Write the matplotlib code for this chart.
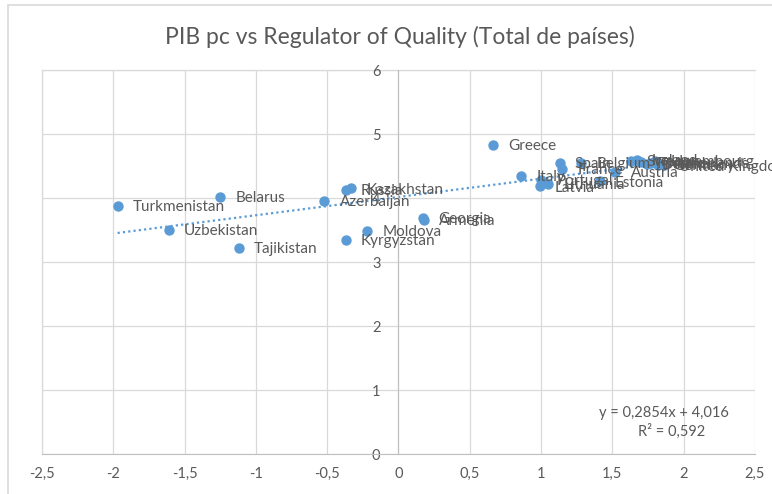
import matplotlib.pyplot as plt
from matplotlib.patches import Rectangle

# datos: Regulatory Quality (x) vs PIB pc en log (y)
paises = ['Turkmenistan', 'Uzbekistan', 'Belarus', 'Tajikistan', 'Azerbaijan',
          'Russia', 'Kazakhstan', 'Kyrgyzstan', 'Moldova', 'Georgia', 'Armenia',
          'Greece', 'Italy', 'Portugal', 'Latvia', 'Lithuania', 'Spain', 'France',
          'Belgium', 'Estonia', 'Austria', 'Sweden', 'Ireland', 'Finland',
          'Denmark', 'Netherlands', 'Luxembourg', 'Germany', 'United Kingdom']
reg_quality = [-1.97, -1.61, -1.25, -1.12, -0.52,
               -0.37, -0.33, -0.37, -0.22, 0.17, 0.18,
               0.66, 0.86, 1.00, 0.99, 1.05, 1.13, 1.15,
               1.28, 1.41, 1.52, 1.63, 1.67, 1.70,
               1.74, 1.77, 1.80, 1.82, 1.86]
pib_pc = [3.88, 3.50, 4.02, 3.22, 3.96,
          4.13, 4.15, 3.35, 3.49, 3.69, 3.66,
          4.83, 4.35, 4.28, 4.18, 4.22, 4.55, 4.46,
          4.55, 4.26, 4.41, 4.58, 4.60, 4.56,
          4.53, 4.55, 4.58, 4.52, 4.51]

# linea de tendencia (la ecuacion que sale en el grafico)
pendiente = 0.2854
intercepto = 4.016
r2 = 0.592

azul = '#5B9BD5'
gris = '#595959'
rejilla = '#d9d9d9'
plt.rcParams['font.family'] = ['Lato', 'DejaVu Sans']

fig = plt.figure(figsize=(7.72, 4.94), dpi=100)
ax = fig.add_axes([42 / 772, 1 - 454 / 494, 713 / 772, 384 / 494])

# borde del area del grafico (cortado a la derecha y abajo)
fig.patches.append(Rectangle((8 / 772, -0.1), 1.2, 1.1 - 5 / 494, transform=fig.transFigure,
                             fill=False, edgecolor=rejilla, lw=1.2))

ax.set_xlim(-2.5, 2.5)
ax.set_ylim(0, 6)
ax.set_xticks([-2.5, -2, -1.5, -1, -0.5, 0, 0.5, 1, 1.5, 2, 2.5])
ax.set_xticklabels(['-2,5', '-2', '-1,5', '-1', '-0,5', '0', '0,5', '1', '1,5', '2', '2,5'])
ax.set_yticks(range(7))
ax.grid(True, color=rejilla, lw=0.9, zorder=0)
ax.axvline(-2.5, color=rejilla, lw=0.9, clip_on=False, zorder=0)
ax.axhline(6, color=rejilla, lw=0.9, clip_on=False, zorder=0)

for lado in ['top', 'right']:
    ax.spines[lado].set_visible(False)
ax.spines['left'].set_position(('data', 0))
ax.spines['left'].set_color('#bfbfbf')
ax.spines['bottom'].set_color('#bfbfbf')
ax.tick_params(axis='both', length=0, labelcolor=gris, labelsize=10.5)
ax.tick_params(axis='y', pad=13)
ax.tick_params(axis='x', pad=9)

# trendline punteada
x0, x1 = min(reg_quality), max(reg_quality)
ax.plot([x0, x1], [pendiente * x0 + intercepto, pendiente * x1 + intercepto],
        color=azul, lw=1.6, linestyle=(0, (1, 1.4)), zorder=2)

ax.scatter(reg_quality, pib_pc, s=42, color=azul, zorder=3, clip_on=False)

for nombre, xv, yv in zip(paises, reg_quality, pib_pc):
    ax.annotate(nombre, (xv, yv), xytext=(11, -1), textcoords='offset points',
                va='center', ha='left', fontsize=11, color=gris, zorder=4,
                annotation_clip=False)

ax.text(0.963, 0.108, 'y = ' + f'{pendiente:.4f}'.replace('.', ',') + 'x + ' +
        f'{intercepto:.3f}'.replace('.', ','), transform=ax.transAxes,
        ha='right', va='center', fontsize=10.5, color=gris)
ax.text(0.93, 0.058, 'R² = ' + f'{r2:.3f}'.replace('.', ','), transform=ax.transAxes,
        ha='right', va='center', fontsize=10.5, color=gris)

fig.text(400 / 772, 1 - 37 / 494, 'PIB pc vs Regulator of Quality (Total de países)',
         ha='center', va='center', fontsize=16.5, color=gris)

fig.savefig('out.png', dpi=100)
